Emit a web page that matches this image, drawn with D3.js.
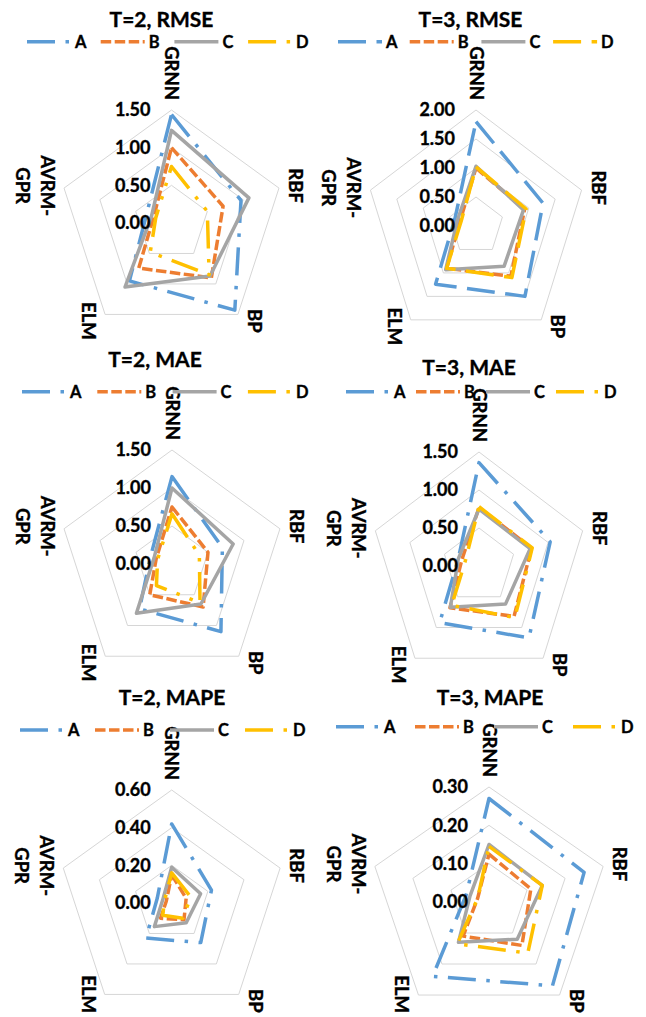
<!DOCTYPE html>
<html>
<head>
<meta charset="utf-8">
<script src="https://cdn.jsdelivr.net/npm/d3@7"></script>
<style>
  html, body { margin: 0; padding: 0; background: #fff; }
  svg { display: block; }
  text { font-family: Lato, "Open Sans", sans-serif; font-weight: 700; fill: #000;
         stroke: #000; stroke-width: 0.35px; paint-order: stroke; }
</style>
</head>
<body>
<svg id="chart" width="646" height="1017"></svg>
<script>
// Axes of every radar, clockwise from the top
const categories = ["GRNN", "RBF", "BP", "ELM", "AVRM-GPR"];
const seriesNames = ["A", "B", "C", "D"];

// One row per series (A, B, C, D); columns follow `categories`
const rmseT2 = [
  [1.44, 0.97, 1.43, 0.95, 0.35],
  [1.00, 0.72, 0.90, 0.74, 0.25],
  [1.23, 1.08, 0.87, 1.05, 0.28],
  [0.75, 0.50, 0.85, 0.48, 0.22]
];
const rmseT3 = [
  [1.80, 1.27, 1.50, 1.24, 0.40],
  [1.00, 0.92, 1.07, 0.90, 0.30],
  [1.03, 0.90, 0.86, 0.93, 0.35],
  [1.02, 0.95, 1.10, 0.90, 0.28]
];
const maeT2 = [
  [1.15, 0.70, 1.10, 0.73, 0.30],
  [0.75, 0.50, 0.70, 0.50, 0.22],
  [1.00, 0.85, 0.65, 0.80, 0.25],
  [0.66, 0.38, 0.63, 0.35, 0.20]
];
const maeT3 = [
  [1.36, 1.03, 1.17, 0.92, 0.30],
  [0.77, 0.76, 0.82, 0.68, 0.25],
  [0.75, 0.74, 0.62, 0.67, 0.30],
  [0.78, 0.77, 0.84, 0.64, 0.20]
];
const mapeT2 = [
  [0.42, 0.22, 0.26, 0.23, 0.08],
  [0.15, 0.08, 0.11, 0.10, 0.03],
  [0.19, 0.16, 0.13, 0.155, 0.05],
  [0.16, 0.105, 0.10, 0.08, 0.04]
];
const mapeT3 = [
  [0.27, 0.25, 0.27, 0.24, 0.06],
  [0.125, 0.11, 0.14, 0.11, 0.03],
  [0.15, 0.14, 0.12, 0.13, 0.05],
  [0.145, 0.14, 0.165, 0.135, 0.03]
];

// Radial tick values of each radar
const ticksRmseT2 = [0, 0.5, 1.0, 1.5];
const ticksRmseT3 = [0, 0.5, 1.0, 1.5, 2.0];
const ticksMaeT2 = [0, 0.5, 1.0, 1.5];
const ticksMaeT3 = [0, 0.5, 1.0, 1.5];
const ticksMapeT2 = [0, 0.2, 0.4, 0.6];
const ticksMapeT3 = [0, 0.1, 0.2, 0.3];

const titles = ["T=2, RMSE", "T=3, RMSE", "T=2, MAE", "T=3, MAE", "T=2, MAPE", "T=3, MAPE"];

// Styling
const colors = ["#5B9BD5", "#ED7D31", "#A5A5A5", "#FFC000"];
const lineW = 3.5;
const dashUnits = {
  solid: null,
  sysDash: [3, 1],
  lgDash: [8, 3],
  lgDashDot: [8, 3, 1, 3],
  lgDashDotDot: [8, 3, 1, 3, 1, 3]
};
const dashOf = name => dashUnits[name] ? dashUnits[name].map(u => u * lineW).join(",") : null;

// Layout of the six radars (2 columns x 3 rows)
const panels = [
  { title: titles[0], data: rmseT2, ticks: ticksRmseT2, cx: 171.5, cy: 223, rx: 113, ry: 113,
    titleX: 161.5, titleY: 26.5, legX: 27, legDx: 73.7, legY: 41.7,
    styles: ["lgDashDot", "sysDash", "solid", "lgDashDotDot"] },
  { title: titles[1], data: rmseT3, ticks: ticksRmseT3, cx: 476, cy: 226, rx: 111, ry: 116,
    titleX: 470.5, titleY: 26.5, legX: 338, legDx: 71.7, legY: 41.7,
    styles: ["lgDash", "sysDash", "solid", "lgDash"] },
  { title: titles[2], data: maeT2, ticks: ticksMaeT2, cx: 172, cy: 564, rx: 113.5, ry: 114,
    titleX: 155, titleY: 367, legX: 22, legDx: 75.3, legY: 391.7,
    styles: ["lgDashDot", "sysDash", "solid", "lgDashDotDot"] },
  { title: titles[3], data: maeT3, ticks: ticksMaeT3, cx: 479, cy: 566, rx: 109, ry: 114,
    titleX: 469, titleY: 375, legX: 346, legDx: 70, legY: 391.7,
    styles: ["lgDashDot", "sysDash", "solid", "lgDashDot"] },
  { title: titles[4], data: mapeT2, ticks: ticksMapeT2, cx: 171.7, cy: 903, rx: 114, ry: 113,
    titleX: 172, titleY: 705, legX: 20, legDx: 75, legY: 730,
    styles: ["lgDashDot", "sysDash", "solid", "lgDashDot"] },
  { title: titles[5], data: mapeT3, ticks: ticksMapeT3, cx: 489, cy: 902, rx: 120, ry: 115,
    titleX: 490, titleY: 705, legX: 336, legDx: 79, legY: 726.7,
    styles: ["lgDashDot", "sysDash", "solid", "lgDashDot"] }
];

const svg = d3.select("#chart");
const H = +svg.attr("height");
const fmt = d3.format(".2f");
const angle = d3.scalePoint()
  .domain(categories)
  .range([0, 2 * Math.PI * (categories.length - 1) / categories.length]);

const closedLine = d3.line().x(d => d[0]).y(d => d[1]).curve(d3.curveLinearClosed);

panels.forEach(p => {
  const g = svg.append("g");
  const maxV = d3.max(p.ticks);
  const r = d3.scaleLinear().domain([0, maxV]).range([0, 1]);
  const px = (c, v) => p.cx + p.rx * r(v) * Math.sin(angle(c));
  const py = (c, v) => p.cy - p.ry * r(v) * Math.cos(angle(c));

  // gridline pentagons
  g.append("g").selectAll("path")
    .data(p.ticks.filter(t => t > 0))
    .join("path")
    .attr("d", t => closedLine(categories.map(c => [px(c, t), py(c, t)])))
    .attr("fill", "none")
    .attr("stroke", "#D6D6D6")
    .attr("stroke-width", 1);

  // series outlines
  g.append("g").selectAll("path")
    .data(p.data)
    .join("path")
    .attr("d", vals => closedLine(categories.map((c, k) => [px(c, vals[k]), py(c, vals[k])])))
    .attr("fill", "none")
    .attr("stroke", (d, i) => colors[i])
    .attr("stroke-width", lineW)
    .attr("stroke-linejoin", "round")
    .attr("stroke-dasharray", (d, i) => dashOf(p.styles[i]));

  // radial tick labels along the top axis
  g.append("g").selectAll("text")
    .data(p.ticks)
    .join("text")
    .attr("x", p.cx - 21)
    .attr("y", t => py(categories[0], t))
    .attr("dy", "0.36em")
    .attr("text-anchor", "end")
    .attr("font-size", 18)
    .text(fmt);

  // category labels, rotated a quarter turn
  const fs = 18.5, lh = 25, gap = 10;
  categories.forEach(c => {
    const a = angle(c);
    const ux = Math.sin(a), uy = -Math.cos(a);
    const vx = px(c, maxV), vy = py(c, maxV);
    const lines = c.includes("-") ? [c.slice(0, c.indexOf("-") + 1), c.slice(c.indexOf("-") + 1)] : [c];
    const lg = g.append("g");
    const t = lg.append("text").attr("text-anchor", "middle").attr("font-size", fs);
    lines.forEach((s, k) => {
      t.append("tspan").attr("x", 0)
        .attr("dy", k === 0 ? (-(lines.length - 1) * lh / 2 + 0.35 * fs) : lh)
        .text(s);
    });
    const len = t.node().getBBox().width;
    const blockW = (lines.length - 1) * lh + 0.72 * fs;
    let x, y;
    if (Math.abs(ux) < 0.01) {
      x = vx; y = vy - gap - len / 2;
    } else {
      x = vx + Math.sign(ux) * (gap + blockW / 2);
      y = Math.min(vy + uy * 8, H - 4 - len / 2);
    }
    lg.attr("transform", `translate(${x},${y}) rotate(90)`);
  });

  // title
  g.append("text")
    .attr("x", p.titleX).attr("y", p.titleY)
    .attr("text-anchor", "middle")
    .attr("font-size", 21)
    .text(p.title);

  // legend
  const leg = g.append("g").selectAll("g")
    .data(seriesNames)
    .join("g")
    .attr("transform", (d, i) => `translate(${p.legX + i * p.legDx},${p.legY})`);
  leg.append("line")
    .attr("x1", 0).attr("x2", 44).attr("y1", 0).attr("y2", 0)
    .attr("stroke", (d, i) => colors[i])
    .attr("stroke-width", lineW)
    .attr("stroke-dasharray", (d, i) => dashOf(p.styles[i]));
  leg.append("text")
    .attr("x", 48).attr("y", 0).attr("dy", "0.36em")
    .attr("font-size", 16.5)
    .text(d => d);
});
</script>
</body>
</html>
